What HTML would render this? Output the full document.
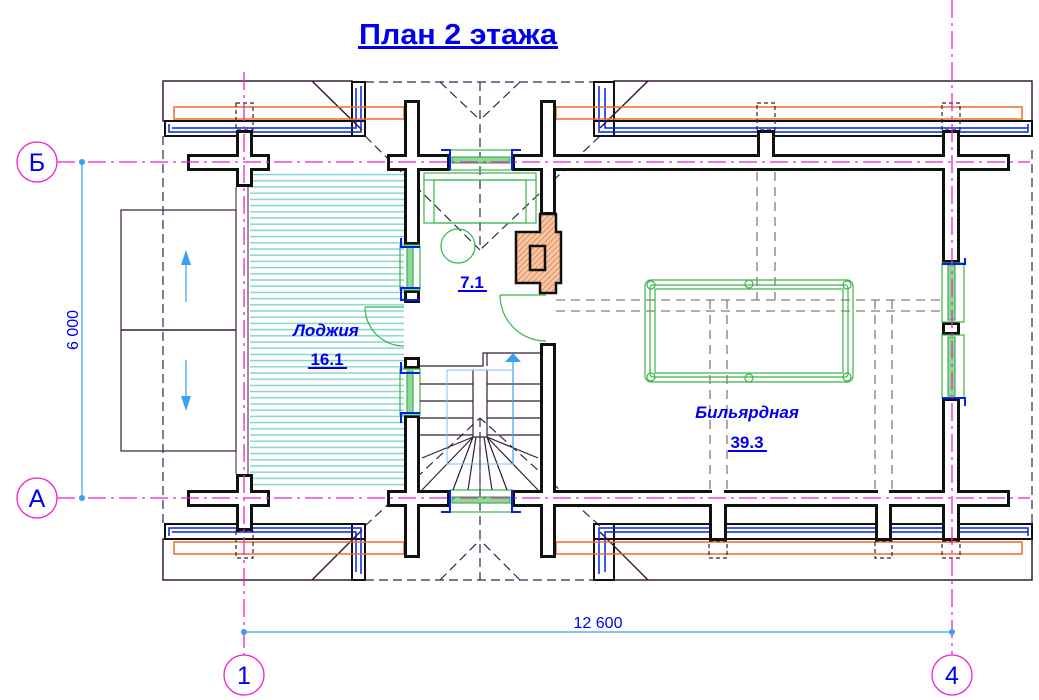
<!DOCTYPE html>
<html><head><meta charset="utf-8"><style>
html,body{margin:0;padding:0;background:#fff;}
svg{display:block;font-family:"Liberation Sans",sans-serif;}
</style></head><body>
<svg width="1039" height="700" viewBox="0 0 1039 700" xmlns="http://www.w3.org/2000/svg">
<defs>
<pattern id="hatch" width="4" height="4" patternUnits="userSpaceOnUse" patternTransform="rotate(45)">
<rect width="4" height="4" fill="#f4c9a8"/><line x1="0" y1="0" x2="0" y2="4" stroke="#e8743a" stroke-width="1.5"/>
</pattern>
<pattern id="lg" width="10" height="6.2" patternUnits="userSpaceOnUse">
<rect width="10" height="6.2" fill="#fff"/><line x1="0" y1="1" x2="10" y2="1" stroke="#7fd3c9" stroke-width="1.4"/>
</pattern>
</defs>

<!-- title -->
<text x="458" y="44" font-size="29" font-weight="bold" fill="#0000ee" text-anchor="middle" textLength="198" lengthAdjust="spacingAndGlyphs">План 2 этажа</text>
<rect x="358" y="46" width="200" height="3" fill="#0000ee"/>

<!-- loggia hatch -->
<rect x="250" y="171" width="154" height="319" fill="url(#lg)"/>
<line x1="236" y1="187" x2="236" y2="474" stroke="#3a1a3a" stroke-width="1"/>
<line x1="248" y1="187" x2="248" y2="474" stroke="#3a1a3a" stroke-width="1"/>

<!-- outer roof dashed outline -->
<g stroke="#2a2a50" stroke-width="1.2" stroke-dasharray="9,5" fill="none">
<line x1="365" y1="82" x2="594" y2="82"/>
<line x1="365" y1="580" x2="594" y2="580"/>
<line x1="163" y1="136" x2="163" y2="526"/>
<line x1="1032" y1="150" x2="1032" y2="526"/>
<line x1="440" y1="82" x2="480" y2="120"/><line x1="520" y1="82" x2="480" y2="120"/>
<line x1="480" y1="82" x2="480" y2="250"/>
<line x1="365" y1="136" x2="480" y2="250"/><line x1="600" y1="136" x2="480" y2="250"/>
<line x1="365" y1="526" x2="480" y2="418"/><line x1="600" y1="526" x2="480" y2="418"/>
<line x1="480" y1="418" x2="480" y2="580"/>
<line x1="440" y1="580" x2="480" y2="540"/><line x1="520" y1="580" x2="480" y2="540"/>
</g>

<!-- left external stair thing -->
<rect x="121" y="210" width="115" height="241" fill="none" stroke="#3a1a3a" stroke-width="1.2"/>
<line x1="121" y1="330" x2="236" y2="330" stroke="#3a1a3a" stroke-width="1.5"/>
<line x1="186" y1="302" x2="186" y2="260" stroke="#3aa0f0" stroke-width="1.2"/>
<polygon points="186,250 181,265 191,265" fill="#3aa0f0"/>
<line x1="186" y1="360" x2="186" y2="400" stroke="#3aa0f0" stroke-width="1.2"/>
<polygon points="186,411 181,396 191,396" fill="#3aa0f0"/>

<!-- eaves -->
<g fill="none" stroke-width="1.5">
<rect x="163" y="81" width="189" height="40" stroke="#3a1a3a"/>
<rect x="165" y="121" width="200" height="15" stroke="#111" stroke-width="2"/>
<rect x="352" y="82" width="13" height="54" stroke="#111" stroke-width="2"/>
<path d="M169,124 V132 H361 V86" stroke="#0022ee"/>
<path d="M172,128 H356 V88" stroke="#0022ee"/>
<line x1="312" y1="81" x2="362" y2="130" stroke="#3a1a3a"/>
<rect x="174" y="107" width="230" height="12" stroke="#f06a2a"/>
<rect x="163" y="539" width="189" height="41" stroke="#3a1a3a"/>
<rect x="165" y="524" width="200" height="15" stroke="#111" stroke-width="2"/>
<rect x="352" y="524" width="13" height="56" stroke="#111" stroke-width="2"/>
<path d="M169,536 V528 H361 V574" stroke="#0022ee"/>
<path d="M172,532 H356 V572" stroke="#0022ee"/>
<line x1="312" y1="580" x2="362" y2="530" stroke="#3a1a3a"/>
<rect x="174" y="542" width="230" height="12" stroke="#f06a2a"/>
<rect x="614" y="81" width="418" height="40" stroke="#3a1a3a"/>
<rect x="594" y="121" width="438" height="15" stroke="#111" stroke-width="2"/>
<rect x="594" y="82" width="20" height="54" stroke="#111" stroke-width="2"/>
<path d="M1028,124 V132 H599 V86" stroke="#0022ee"/>
<path d="M1028,128 H605 V88" stroke="#0022ee"/>
<line x1="648" y1="81" x2="600" y2="128" stroke="#3a1a3a"/>
<rect x="556" y="107" width="466" height="12" stroke="#f06a2a"/>
<rect x="614" y="539" width="418" height="41" stroke="#3a1a3a"/>
<rect x="594" y="524" width="438" height="15" stroke="#111" stroke-width="2"/>
<rect x="594" y="524" width="20" height="56" stroke="#111" stroke-width="2"/>
<path d="M1028,536 V528 H599 V574" stroke="#0022ee"/>
<path d="M1028,532 H605 V572" stroke="#0022ee"/>
<line x1="648" y1="580" x2="600" y2="532" stroke="#3a1a3a"/>
<rect x="556" y="542" width="466" height="12" stroke="#f06a2a"/>
</g>

<!-- dashed brown beams -->
<g stroke="#8a7a78" stroke-width="1.3" stroke-dasharray="9,6" fill="none">
<line x1="556" y1="300" x2="943" y2="300"/><line x1="556" y1="311" x2="943" y2="311"/>
<line x1="757" y1="172" x2="757" y2="300"/><line x1="775" y1="172" x2="775" y2="300"/>
<line x1="710" y1="300" x2="710" y2="490"/><line x1="727" y1="300" x2="727" y2="490"/>
<line x1="875" y1="300" x2="875" y2="490"/><line x1="892" y1="300" x2="892" y2="490"/>
</g>
<g stroke="#3a1a3a" stroke-width="1.2" stroke-dasharray="4,3" fill="none">
<rect x="236" y="103" width="17" height="27"/><rect x="236" y="531" width="17" height="27"/>
<rect x="757" y="103" width="18" height="27"/><rect x="942" y="103" width="18" height="27"/>
<rect x="709" y="541" width="18" height="17"/><rect x="875" y="541" width="17" height="17"/><rect x="942" y="541" width="18" height="17"/>
</g>

<!-- walls -->
<g fill="#111">
<rect x="187" y="154" width="83" height="17"/><rect x="236" y="130" width="17" height="57"/>
<rect x="187" y="490" width="83" height="17"/><rect x="236" y="474" width="17" height="57"/>
<rect x="404" y="100" width="16" height="145"/><rect x="387" y="154" width="63" height="17"/>
<rect x="404" y="290" width="16" height="13"/><rect x="404" y="357" width="16" height="12"/>
<rect x="404" y="415" width="16" height="143"/><rect x="387" y="490" width="63" height="17"/>
<rect x="540" y="100" width="16" height="115"/><rect x="512" y="154" width="498" height="17"/>
<rect x="757" y="130" width="18" height="30"/><rect x="942" y="130" width="18" height="133"/>
<rect x="540" y="343" width="16" height="215"/><rect x="512" y="490" width="498" height="17"/>
<rect x="709" y="495" width="18" height="46"/><rect x="875" y="495" width="17" height="46"/>
<rect x="942" y="398" width="18" height="143"/><rect x="942" y="322" width="18" height="13"/>
</g>
<g fill="#fff">
<rect x="190" y="157" width="77" height="11"/><rect x="239" y="133" width="11" height="51"/>
<rect x="190" y="493" width="77" height="11"/><rect x="239" y="477" width="11" height="51"/>
<rect x="407" y="103" width="10" height="139"/><rect x="390" y="157" width="57" height="11"/>
<rect x="407" y="293" width="10" height="7"/><rect x="407" y="360" width="10" height="6"/>
<rect x="407" y="418" width="10" height="137"/><rect x="390" y="493" width="57" height="11"/>
<rect x="543" y="103" width="10" height="109"/><rect x="515" y="157" width="492" height="11"/>
<rect x="760" y="133" width="12" height="30"/><rect x="945" y="133" width="12" height="127"/>
<rect x="543" y="346" width="10" height="209"/><rect x="515" y="493" width="492" height="11"/>
<rect x="712" y="490" width="12" height="48"/><rect x="878" y="490" width="11" height="48"/>
<rect x="945" y="401" width="12" height="137"/><rect x="945" y="325" width="12" height="7"/>
</g>

<!-- windows -->
<g fill="none" stroke="#3cb54a" stroke-width="1.2">
<rect x="450" y="150" width="62" height="20"/><rect x="452" y="157" width="58" height="6" fill="#8fd89a"/>
<rect x="450" y="490" width="62" height="22"/><rect x="452" y="497" width="58" height="6" fill="#8fd89a"/>
<rect x="400" y="245" width="20" height="45"/><rect x="407" y="247" width="6" height="41" fill="#8fd89a"/>
<rect x="400" y="369" width="20" height="46"/><rect x="407" y="371" width="6" height="42" fill="#8fd89a"/>
<rect x="942" y="263" width="22" height="59"/><rect x="948" y="265" width="7" height="55" fill="#8fd89a"/>
<rect x="942" y="335" width="22" height="63"/><rect x="948" y="337" width="7" height="59" fill="#8fd89a"/>
</g>
<g fill="none" stroke="#0022ee" stroke-width="2">
<path d="M441,150 H450 V170"/><path d="M521,150 H512 V170"/>
<path d="M441,512 H450 V490"/><path d="M521,512 H512 V490"/>
<path d="M401,238 V247 H420"/><path d="M401,296 V288 H420 M401,289 V300 H420"/>
<path d="M401,362 V373 H420"/><path d="M401,423 V413 H420"/>
<path d="M965,258 V264 H942"/><path d="M965,406 V398 H942"/>
</g>

<!-- sofa, table, doors -->
<g fill="none" stroke="#3cb54a" stroke-width="1.2">
<rect x="424" y="173" width="112" height="50"/><rect x="434" y="180" width="92" height="43"/>
<line x1="424" y1="180" x2="536" y2="180"/>
<circle cx="458" cy="246" r="17"/>
<path d="M500,295 H546 M500,295 A46,46 0 0 0 546,341"/>
<path d="M365,307 H404 M365,307 A39,39 0 0 0 404,346"/>
</g>

<!-- fireplace -->
<polygon points="540,214 556,214 556,232 561,232 561,283 556,283 556,293 540,293 540,283 516,283 516,232 540,232" fill="url(#hatch)" stroke="#111" stroke-width="2.5"/>
<rect x="530" y="246" width="15" height="24" fill="url(#hatch)" stroke="#111" stroke-width="2.5"/>

<!-- stair -->
<g stroke="#3a1a3a" stroke-width="1.2" fill="none">
<path d="M420,366 H483 V353 H540"/><line x1="487" y1="353" x2="487" y2="366"/>
<line x1="473" y1="370" x2="473" y2="437"/><line x1="487" y1="370" x2="487" y2="437"/>
<line x1="420" y1="384" x2="473" y2="384"/><line x1="487" y1="384" x2="540" y2="384"/>
<line x1="420" y1="401" x2="473" y2="401"/><line x1="487" y1="401" x2="540" y2="401"/>
<line x1="420" y1="418" x2="473" y2="418"/><line x1="487" y1="418" x2="540" y2="418"/>
<line x1="420" y1="435" x2="473" y2="435"/><line x1="487" y1="435" x2="540" y2="435"/>
<line x1="473" y1="437" x2="487" y2="437"/>
<line x1="473" y1="437" x2="422" y2="458"/><line x1="473" y1="437" x2="422" y2="490"/>
<line x1="473" y1="437" x2="453" y2="490"/><line x1="476" y1="437" x2="468" y2="490"/>
<line x1="484" y1="437" x2="492" y2="490"/><line x1="487" y1="437" x2="507" y2="490"/>
<line x1="487" y1="437" x2="538" y2="490"/><line x1="487" y1="437" x2="538" y2="458"/>
</g>
<rect x="447" y="370" width="66" height="94" fill="none" stroke="#7ec0f5" stroke-width="1"/>
<line x1="513" y1="464" x2="513" y2="362" stroke="#3aa0f0" stroke-width="1.2"/>
<polygon points="513,353 505,362 521,362" fill="#3aa0f0"/>
<line x1="480" y1="437" x2="480" y2="490" stroke="#2a2a50" stroke-width="1"/>

<g fill="none" stroke="#3cb54a" stroke-width="1.2">
<rect x="645" y="280" width="208" height="102" rx="6"/>
<rect x="650" y="285" width="198" height="92" rx="3"/>
<rect x="655" y="289" width="188" height="84"/>
<circle cx="651" cy="285" r="4"/><circle cx="847" cy="285" r="4"/>
<circle cx="651" cy="377" r="4"/><circle cx="847" cy="377" r="4"/>
<circle cx="749" cy="284" r="4"/><circle cx="749" cy="378" r="4"/>
</g>

<!-- axes -->
<g stroke="#ee22cc" stroke-width="1.3" stroke-dasharray="18,5,3,5" fill="none">
<line x1="57" y1="162" x2="1030" y2="162"/>
<line x1="57" y1="498" x2="1030" y2="498"/>
<line x1="244" y1="72" x2="244" y2="655"/>
<line x1="952" y1="0" x2="952" y2="655"/>
</g>
<g fill="#fff" stroke="#ee22cc" stroke-width="1.3">
<circle cx="37" cy="162" r="20"/><circle cx="37" cy="498" r="20"/>
<circle cx="244" cy="675" r="20"/><circle cx="952" cy="675" r="20"/>
</g>
<g font-size="25" fill="#0000ee" text-anchor="middle">
<text x="37" y="171">Б</text><text x="37" y="507">А</text>
<text x="244" y="684">1</text><text x="952" y="684">4</text>
</g>

<!-- dimensions -->
<line x1="82" y1="162" x2="82" y2="498" stroke="#3aa0f0" stroke-width="1.2"/>
<circle cx="82" cy="162" r="3" fill="#3aa0f0"/><circle cx="82" cy="498" r="3" fill="#3aa0f0"/>
<text x="0" y="0" font-size="16" fill="#0000ee" text-anchor="middle" transform="translate(78,330) rotate(-90)">6 000</text>
<line x1="244" y1="632" x2="952" y2="632" stroke="#3aa0f0" stroke-width="1.2"/>
<circle cx="244" cy="632" r="3" fill="#3aa0f0"/><circle cx="952" cy="632" r="3" fill="#3aa0f0"/>
<text x="598" y="628" font-size="16" fill="#0000ee" text-anchor="middle">12 600</text>

<!-- room labels -->
<g fill="#0000ee" font-weight="bold" font-size="17" text-anchor="middle">
<text x="472" y="288">7.1</text><rect x="458" y="290" width="29" height="2"/>
<text x="326" y="336" font-style="italic">Лоджия</text>
<text x="327" y="365">16.1</text><rect x="308" y="367" width="39" height="2"/>
<text x="747" y="418" font-style="italic">Бильярдная</text>
<text x="747" y="448">39.3</text><rect x="728" y="450" width="39" height="2"/>
</g>
</svg>
</body></html>
